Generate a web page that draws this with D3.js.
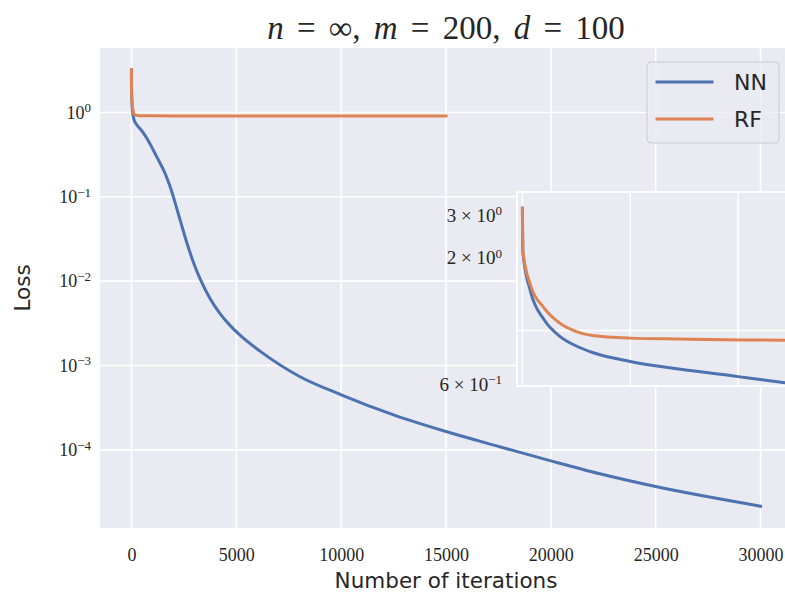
<!DOCTYPE html>
<html>
<head>
<script src="https://cdn.jsdelivr.net/npm/d3@7"></script>
<style>
  body { margin: 0; background: #fff; }
</style>
</head>
<body>
<div id="chart"></div>
<script>

    // NN loss vs iterations
    var iterNN = [0, 1, 15, 40, 70, 100, 130, 200, 290, 400, 490, 725, 1202, 1600, 1838, 2077, 2315, 2554, 2792, 3030, 3269, 3746, 4223, 4700, 5176, 6130, 8040, 10000, 12500, 15000, 17500, 20000, 22333, 25000, 30000];
    var lossNN = [3.2, 2.09, 1.45, 1.11, 0.944, 0.863, 0.811, 0.745, 0.693, 0.645, 0.607, 0.497, 0.299, 0.19, 0.133, 0.0859, 0.0536, 0.0336, 0.0218, 0.0149, 0.0107, 0.00622, 0.00413, 0.00299, 0.00229, 0.00148, 7.36e-4, 4.5e-4, 2.6e-4, 1.65e-4, 1.1e-4, 7.4e-5, 5.2e-5, 3.67e-5, 2.15e-5];

    // RF loss vs iterations
    var iterRF = [0, 1, 15, 40, 70, 100, 130, 200, 290, 490, 1000, 2000, 5000, 10000, 15000];
    var lossRF = [3.2, 2.12, 1.54, 1.24, 1.07, 0.99, 0.953, 0.93, 0.922, 0.912, 0.911, 0.91, 0.91, 0.91, 0.91];

    var seriesNames = ['NN', 'RF'];
    var colors = ['#4C72B0', '#DD8452'];

    var xTicks = [0, 5000, 10000, 15000, 20000, 25000, 30000];
    var yTicks = [1, 0.1, 0.01, 0.001, 0.0001];
    var yTickExp = ['0', '\u22121', '\u22122', '\u22123', '\u22124'];

    var insetXGrid = [0, 200, 400];
    var insetYGrid = [1];
    var insetYTicks = [3, 2, 0.6];
    var insetYMant = ['3', '2', '6'];
    var insetYExp = ['0', '0', '\u22121'];

    var width = 785, height = 593;
    var bg = '#EAEAF2';
    var serif = "'Liberation Serif', 'DejaVu Serif', serif";
    var sans = "'DejaVu Sans', sans-serif";
    var lw = 3;

    var nn = iterNN.map(function(d, i) { return { x: d, y: lossNN[i] }; });
    var rf = iterRF.map(function(d, i) { return { x: d, y: lossRF[i] }; });
    var series = [nn, rf];

    var svg = d3.select('#chart').append('svg')
        .attr('width', width)
        .attr('height', height)
        .style('display', 'block');

    // main axes box
    var axL = 100, axR = 792, axT = 48, axB = 528;

    // matplotlib-like 5% margins
    var xMax = d3.max(iterNN);
    var x = d3.scaleLinear()
        .domain([-0.05 * xMax, 1.05 * xMax])
        .range([axL, axR]);

    var lmin = Math.log10(d3.min(lossNN.concat(lossRF)));
    var lmax = Math.log10(d3.max(lossNN.concat(lossRF)));
    var pad = 0.05 * (lmax - lmin);
    var y = d3.scaleLog()
        .domain([Math.pow(10, lmin - pad), Math.pow(10, lmax + pad)])
        .range([axB, axT]);

    var defs = svg.append('defs');
    defs.append('clipPath').attr('id', 'clipMain')
        .append('rect')
        .attr('x', axL).attr('y', axT)
        .attr('width', axR - axL).attr('height', axB - axT);

    svg.append('rect')
        .attr('x', axL).attr('y', axT)
        .attr('width', axR - axL).attr('height', axB - axT)
        .attr('fill', bg);

    var grid = svg.append('g');
    grid.selectAll('line.gx')
        .data(xTicks)
        .enter().append('line')
        .attr('x1', function(d) { return x(d); })
        .attr('x2', function(d) { return x(d); })
        .attr('y1', axT).attr('y2', axB)
        .attr('stroke', '#fff').attr('stroke-width', 1.6);
    grid.selectAll('line.gy')
        .data(yTicks)
        .enter().append('line')
        .attr('x1', axL).attr('x2', axR)
        .attr('y1', function(d) { return y(d); })
        .attr('y2', function(d) { return y(d); })
        .attr('stroke', '#fff').attr('stroke-width', 1.6);

    var line = d3.line()
        .x(function(d) { return x(d.x); })
        .y(function(d) { return y(d.y); })
        .curve(d3.curveMonotoneX);

    svg.append('g').attr('clip-path', 'url(#clipMain)')
        .selectAll('path')
        .data(series)
        .enter().append('path')
        .attr('d', line)
        .attr('fill', 'none')
        .attr('stroke', function(d, i) { return colors[i]; })
        .attr('stroke-width', lw)
        .attr('stroke-linejoin', 'round')
        .attr('stroke-linecap', 'square');

    // x axis labels
    var xAxis = svg.append('g')
        .attr('transform', 'translate(0,' + axB + ')')
        .call(d3.axisBottom(x).tickValues(xTicks).tickSize(0).tickPadding(20).tickFormat(d3.format('d')));
    xAxis.select('.domain').remove();
    xAxis.selectAll('text')
        .attr('font-family', serif)
        .attr('font-size', 18)
        .attr('fill', '#262626');

    // y axis labels with superscripts
    var yAxis = svg.append('g')
        .attr('transform', 'translate(' + axL + ',0)')
        .call(d3.axisLeft(y).tickValues(yTicks).tickSize(0).tickPadding(9).tickFormat(''));
    yAxis.select('.domain').remove();
    yAxis.selectAll('text')
        .attr('font-family', serif)
        .attr('font-size', 18)
        .attr('fill', '#262626')
        .each(function(d, i) {
            var t = d3.select(this);
            t.append('tspan').text('10');
            t.append('tspan').attr('dy', '-0.5em').attr('font-size', 13).text(yTickExp[i]);
        });

    // title
    var title = svg.append('text')
        .attr('x', (axL + axR) / 2)
        .attr('y', 39)
        .attr('text-anchor', 'middle')
        .attr('font-family', serif)
        .attr('font-size', 33)
        .style('word-spacing', '5px')
        .attr('fill', '#262626');
    var parts = [['n', 1], [' = \u221E, ', 0], ['m', 1], [' = 200, ', 0], ['d', 1], [' = 100', 0]];
    parts.forEach(function(p) {
        title.append('tspan').attr('font-style', p[1] ? 'italic' : 'normal').text(p[0]);
    });

    svg.append('text')
        .attr('x', (axL + axR) / 2)
        .attr('y', 588)
        .attr('text-anchor', 'middle')
        .attr('font-family', sans)
        .attr('font-size', 21.5)
        .attr('fill', '#262626')
        .text('Number of iterations');

    svg.append('text')
        .attr('transform', 'translate(30,' + ((axT + axB) / 2) + ') rotate(-90)')
        .attr('text-anchor', 'middle')
        .attr('font-family', sans)
        .attr('font-size', 21.5)
        .attr('fill', '#262626')
        .text('Loss');

    // inset (zoom on the first iterations)
    var iL = 517, iR = 792, iT = 192, iB = 386;
    var xi = d3.scaleLinear().domain([-10, 500]).range([iL, iR]);
    var yi = d3.scaleLog().domain([0.59, 3.73]).range([iB, iT]);

    defs.append('clipPath').attr('id', 'clipInset')
        .append('rect')
        .attr('x', iL).attr('y', iT)
        .attr('width', iR - iL).attr('height', iB - iT);

    var inset = svg.append('g');
    inset.append('rect')
        .attr('x', iL).attr('y', iT)
        .attr('width', iR - iL).attr('height', iB - iT)
        .attr('fill', bg);
    inset.selectAll('line.ix')
        .data(insetXGrid)
        .enter().append('line')
        .attr('x1', function(d) { return xi(d); })
        .attr('x2', function(d) { return xi(d); })
        .attr('y1', iT).attr('y2', iB)
        .attr('stroke', '#fff').attr('stroke-width', 1.6);
    inset.selectAll('line.iy')
        .data(insetYGrid)
        .enter().append('line')
        .attr('x1', iL).attr('x2', iR)
        .attr('y1', function(d) { return yi(d); })
        .attr('y2', function(d) { return yi(d); })
        .attr('stroke', '#fff').attr('stroke-width', 1.6);

    var lineInset = d3.line()
        .x(function(d) { return xi(d.x); })
        .y(function(d) { return yi(d.y); })
        .curve(d3.curveMonotoneX);

    inset.append('g').attr('clip-path', 'url(#clipInset)')
        .selectAll('path')
        .data(series)
        .enter().append('path')
        .attr('d', lineInset)
        .attr('fill', 'none')
        .attr('stroke', function(d, i) { return colors[i]; })
        .attr('stroke-width', lw)
        .attr('stroke-linejoin', 'round')
        .attr('stroke-linecap', 'square');

    inset.append('rect')
        .attr('x', iL).attr('y', iT)
        .attr('width', iR - iL).attr('height', iB - iT)
        .attr('fill', 'none')
        .attr('stroke', '#fff')
        .attr('stroke-width', 1.7);

    var iyAxis = inset.append('g')
        .attr('transform', 'translate(' + iL + ',0)')
        .call(d3.axisLeft(yi).tickValues(insetYTicks).tickSize(0).tickPadding(15).tickFormat(''));
    iyAxis.select('.domain').remove();
    iyAxis.selectAll('text')
        .attr('font-family', serif)
        .attr('font-size', 19)
        .attr('fill', '#262626')
        .each(function(d, i) {
            var t = d3.select(this);
            t.append('tspan').text(insetYMant[i] + ' \u00D7 10');
            t.append('tspan').attr('dy', '-0.5em').attr('font-size', 13).text(insetYExp[i]);
        });

    // legend
    var legend = svg.append('g').attr('transform', 'translate(647,62)');
    legend.append('rect')
        .attr('width', 132).attr('height', 81)
        .attr('rx', 4)
        .attr('fill', bg).attr('fill-opacity', 0.8)
        .attr('stroke', '#cccccc').attr('stroke-width', 1);
    var entries = legend.selectAll('g.entry')
        .data(seriesNames)
        .enter().append('g')
        .attr('transform', function(d, i) { return 'translate(0,' + (20 + i * 37) + ')'; });
    entries.append('line')
        .attr('x1', 10).attr('x2', 65)
        .attr('stroke', function(d, i) { return colors[i]; })
        .attr('stroke-width', lw)
        .attr('stroke-linecap', 'square');
    entries.append('text')
        .attr('x', 87)
        .attr('dy', '0.36em')
        .attr('font-family', sans)
        .attr('font-size', 22)
        .attr('fill', '#262626')
        .text(function(d) { return d; });

</script>
</body>
</html>
